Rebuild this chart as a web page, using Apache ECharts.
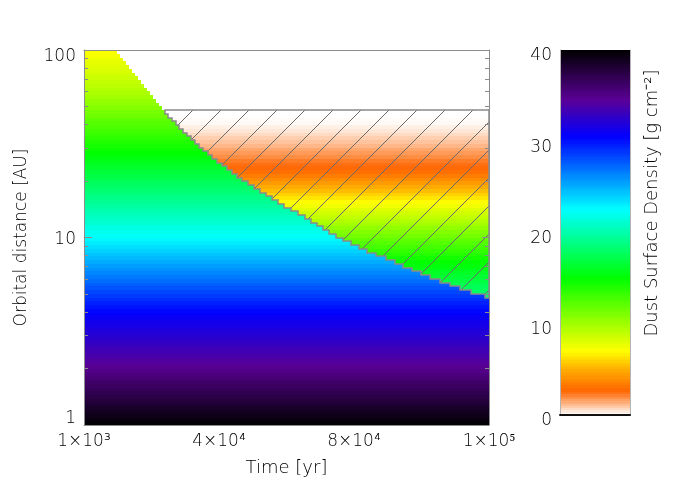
<!DOCTYPE html>
<html>
<head>
<meta charset="utf-8">
<script src="https://cdn.jsdelivr.net/npm/echarts@6/dist/echarts.min.js"></script>
<style>html,body{margin:0;padding:0;background:#fff}#c{width:700px;height:500px}</style>
</head>
<body>
<div id="c"></div>
<script>
// ---------- data (rows are log-spaced bands of 0.02 dex from 1 AU to 100 AU, bottom to top) ----------
const rowLogWidth = 0.02;
const tMin = 1000, tMax = 100000;
const rMin = 1, rMax = 100;
const xTickValues = [1000, 34000, 67000, 100000];
const xTickLabels = ['1×10³', '4×10⁴', '8×10⁴', '1×10⁵'];
const yMajorTicks = [1, 10, 100];
const yMinorTicks = [2, 3, 4, 5, 6, 7, 8, 9, 20, 30, 40, 50, 60, 70, 80, 90];
const cbTicks = [0, 10, 20, 30, 40];
const cbMin = 0, cbMax = 40;

// dust surface density left of / below the front (g cm^-2), per row
const sigmaInner = [
  39.8, 39.5, 39.1, 38.8, 38.5, 38.1, 37.8, 37.4, 37.1, 36.7,
  36.4, 36.1, 35.7, 35.4, 35.0, 34.7, 34.3, 34.0, 33.7, 33.4,
  33.2, 32.9, 32.6, 32.3, 32.0, 31.8, 31.5, 31.2, 30.9, 30.6,
  30.3, 29.9, 29.5, 29.1, 28.7, 28.3, 27.9, 27.5, 27.1, 26.7,
  26.3, 25.9, 25.5, 25.1, 24.7, 24.3, 23.9, 23.5, 23.1, 22.7,
  22.3, 22.0, 21.7, 21.3, 21.0, 20.7, 20.3, 20.0, 19.7, 19.3,
  19.0, 18.7, 18.3, 18.0, 17.7, 17.3, 17.0, 16.7, 16.3, 16.0,
  15.7, 15.3, 15.0, 14.7, 14.3, 14.0, 13.6, 13.3, 13.0, 12.6,
  12.3, 12.0, 11.6, 11.3, 10.9, 10.6, 10.3, 9.9, 9.6, 9.4,
  9.1, 8.9, 8.7, 8.5, 8.2, 8.0, 7.8, 7.6, 7.3, 7.1
];

// dust surface density in the hatched region (right of the front, below ~48 AU), per row
const sigmaOuter = [
  null, null, null, null, null, null, null, null, null, null,
  null, null, null, null, null, null, null, null, null, null,
  null, null, null, null, null, null, null, null, null, null,
  null, null, null, null, 18.2, 17.9, 17.6, 17.3, 16.9, 16.5,
  16.1, 15.7, 15.3, 14.9, 14.4, 13.9, 13.4, 12.9, 12.4, 11.9,
  11.4, 10.9, 10.4, 9.9, 9.4, 8.9, 8.4, 7.9, 7.4, 6.9,
  6.4, 5.9, 5.4, 4.9, 4.4, 3.9, 3.4, 3.0, 2.6, 2.4,
  2.2, 1.9, 1.7, 1.5, 1.2, 1.0, 0.8, 0.6, 0.4, 0.25,
  0.1, 0.05, 0, 0
];

// time (yr) at which the front crosses each row
const boundaryTime = [
  100000, 100000, 100000, 100000, 100000, 100000, 100000, 100000, 100000, 100000,
  100000, 100000, 100000, 100000, 100000, 100000, 100000, 100000, 100000, 100000,
  100000, 100000, 100000, 100000, 100000, 100000, 100000, 100000, 100000, 100000,
  100000, 100000, 100000, 100000, 98900, 95700, 92900, 90400, 88000, 85600,
  83300, 81100, 79000, 76900, 74700, 72400, 70100, 68100, 66200, 64300,
  62600, 61000, 59400, 58000, 56500, 54900, 53200, 51600, 50000, 48500,
  47000, 45500, 44000, 42600, 41100, 39700, 38400, 37100, 35900, 34700,
  33500, 32400, 31300, 30200, 29200, 28200, 27200, 26200, 25300, 24300,
  23400, 22500, 21600, 20800, 20000, 19300, 18600, 17800, 17100, 16400,
  15700, 14900, 14200, 13500, 12800, 12000, 11300, 10600, 9900, 9100
];

// colour table stops (value, colour)
const colorStops = [
  [0, [255, 255, 255]], [2.6, [255, 100, 0]], [5.2, [255, 180, 0]], [7, [255, 255, 0]],
  [15, [0, 255, 0]], [22.5, [0, 255, 255]], [30.5, [0, 0, 255]], [34.5, [90, 0, 150]], [40, [0, 0, 0]]
];

// ---------- build ----------
function colorAt(v) {
  for (let k = 0; k < colorStops.length - 1; k++) {
    const a = colorStops[k], b = colorStops[k + 1];
    if (v <= b[0]) {
      const f = (v - a[0]) / (b[0] - a[0]);
      const c = a[1].map((x, j) => Math.round(x + (b[1][j] - x) * f));
      return 'rgb(' + c.join(',') + ')';
    }
  }
  return 'rgb(0,0,0)';
}
const paletteColors = [];
for (let v = cbMin; v <= cbMax + 1e-9; v += 0.25) paletteColors.push(colorAt(v));

const rowLo = i => Math.pow(10, i * rowLogWidth);
const rowHi = i => Math.pow(10, (i + 1) * rowLogWidth);

const cellData = [];
for (let i = 0; i < sigmaInner.length; i++) {
  const tb = Math.min(boundaryTime[i], tMax);
  cellData.push([tMin, tb, rowLo(i), rowHi(i), sigmaInner[i]]);
  if (i < sigmaOuter.length && sigmaOuter[i] != null && tb < tMax) {
    cellData.push([tb, tMax, rowLo(i), rowHi(i), sigmaOuter[i]]);
  }
}
const outerTopRow = sigmaOuter.length - 1;

const cbData = [];
for (let v = cbMin; v < cbMax; v += 0.25) cbData.push([0, 1, v, v + 0.25, v + 0.125]);

function renderCell(params, api) {
  const p0 = api.coord([api.value(0), api.value(3)]);
  const p1 = api.coord([api.value(1), api.value(2)]);
  const x0 = Math.round(p0[0]), x1 = Math.round(p1[0]);
  const y0 = Math.round(p0[1]), y1 = Math.round(p1[1]);
  return { type: 'rect', shape: { x: x0, y: y0, width: x1 - x0, height: y1 - y0 },
           style: { fill: api.visual('color') } };
}

// hatch tile
const tile = document.createElement('canvas');
tile.width = 28; tile.height = 28;
const g = tile.getContext('2d');
g.strokeStyle = '#6a6a6a'; g.lineWidth = 1;
[-5, 23, 51].forEach(c => { g.beginPath(); g.moveTo(-6, c + 6); g.lineTo(c + 6, -6); g.stroke(); });

function renderHatch(params, api) {
  const top = outerTopRow;
  let low = top;
  while (low - 1 >= 0 && sigmaOuter[low - 1] != null && boundaryTime[low - 1] < tMax) low--;
  const raw = [];
  raw.push([boundaryTime[top], rowHi(top)]);
  raw.push([tMax, rowHi(top)]);
  raw.push([tMax, rowLo(low)]);
  for (let i = low; i <= top; i++) {
    raw.push([boundaryTime[i], rowLo(i)]);
    raw.push([boundaryTime[i], rowHi(i)]);
  }
  const pts = raw.map(p => api.coord(p).map(Math.round));
  return { type: 'polygon', shape: { points: pts },
           style: { fill: { image: tile, repeat: 'repeat' }, stroke: '#8a8a8a', lineWidth: 1.5 } };
}

const FONT = 'DejaVu Sans';
const FW = 200;
const TXT = '#000';
const axisGray = '#8c8c8c';

const chart = echarts.init(document.getElementById('c'), null, { renderer: 'canvas' });
chart.setOption({
  backgroundColor: '#ffffff',
  animation: false,
  grid: [
    { left: 84, top: 50, width: 405, height: 375 },
    { left: 560, top: 50, width: 70, height: 365 }
  ],
  xAxis: [
    { gridIndex: 0, type: 'value', min: tMin, max: tMax, interval: 33000, z: 10,
      axisLine: { show: true, lineStyle: { color: axisGray, width: 1 } },
      axisTick: { show: false }, splitLine: { show: false },
      axisLabel: { show: true, margin: 8, fontSize: 17, fontFamily: FONT, fontWeight: FW, color: TXT,
        formatter: v => { const k = xTickValues.indexOf(Math.round(v)); return k >= 0 ? xTickLabels[k] : ''; } },
      name: 'Time [yr]', nameLocation: 'middle', nameGap: 34,
      nameTextStyle: { fontSize: 18, fontFamily: FONT, fontWeight: FW, color: TXT } },
    { gridIndex: 0, type: 'value', min: tMin, max: tMax, position: 'top', z: 10,
      axisLine: { show: true, lineStyle: { color: axisGray, width: 1 } },
      axisTick: { show: false }, axisLabel: { show: false }, splitLine: { show: false } },
    { gridIndex: 1, type: 'value', min: 0, max: 1, z: 10,
      axisLine: { show: true, lineStyle: { color: '#111', width: 2 } },
      axisTick: { show: false }, axisLabel: { show: false }, splitLine: { show: false } }
  ],
  yAxis: [
    { gridIndex: 0, type: 'log', logBase: 10, min: rMin, max: rMax, position: 'left', z: 10,
      axisLine: { show: true, lineStyle: { color: axisGray, width: 1 } },
      axisTick: { show: true, inside: true, length: 8, customValues: yMajorTicks, lineStyle: { color: axisGray } },
      splitLine: { show: false },
      axisLabel: { show: true, customValues: yMajorTicks, margin: 8, color: TXT,
        fontSize: 17, fontFamily: FONT, fontWeight: FW,
        formatter: v => { const k = Math.round(Math.log10(v)); return ['{c|1}', '{b|10}', '{a|100}'][k]; },
        rich: {
          a: { fontSize: 17, fontFamily: FONT, fontWeight: FW, color: TXT, padding: [13, 0, 0, 0] },
          b: { fontSize: 17, fontFamily: FONT, fontWeight: FW, color: TXT, padding: [5, 0, 0, 0] },
          c: { fontSize: 17, fontFamily: FONT, fontWeight: FW, color: TXT, padding: [0, 0, 13, 0] }
        } },
      name: 'Orbital distance [AU]', nameLocation: 'middle', nameGap: 54, nameRotate: 90,
      nameTextStyle: { fontSize: 17, fontFamily: FONT, fontWeight: FW, color: TXT } },
    { gridIndex: 0, type: 'log', logBase: 10, min: rMin, max: rMax, position: 'left', z: 10,
      axisLine: { show: false },
      axisTick: { show: true, inside: true, length: 4, customValues: yMinorTicks, lineStyle: { color: axisGray } },
      axisLabel: { show: false }, splitLine: { show: false } },
    { gridIndex: 0, type: 'log', logBase: 10, min: rMin, max: rMax, position: 'right', z: 10,
      axisLine: { show: true, lineStyle: { color: axisGray, width: 1 } },
      axisTick: { show: true, inside: true, length: 7, customValues: yMajorTicks, lineStyle: { color: axisGray } },
      axisLabel: { show: false }, splitLine: { show: false } },
    { gridIndex: 0, type: 'log', logBase: 10, min: rMin, max: rMax, position: 'right', z: 10,
      axisLine: { show: false },
      axisTick: { show: true, inside: true, length: 4, customValues: yMinorTicks, lineStyle: { color: axisGray } },
      axisLabel: { show: false }, splitLine: { show: false } },
    { gridIndex: 1, type: 'value', min: cbMin, max: cbMax, interval: 10, position: 'left', z: 10,
      axisLine: { show: true, lineStyle: { color: '#b4b4b4', width: 1 } },
      axisTick: { show: false }, splitLine: { show: false },
      axisLabel: { show: true, margin: 8, color: TXT, fontSize: 17, fontFamily: FONT, fontWeight: FW,
        formatter: v => '{p|' + v + '}',
        rich: { p: { fontSize: 17, fontFamily: FONT, fontWeight: FW, color: TXT, padding: [12, 0, 0, 0] } } } },
    { gridIndex: 1, type: 'value', min: cbMin, max: cbMax, position: 'right', z: 10,
      axisLine: { show: true, lineStyle: { color: '#b4b4b4', width: 1 } },
      axisTick: { show: false }, axisLabel: { show: false }, splitLine: { show: false } }
  ],
  visualMap: {
    type: 'continuous', show: false, min: cbMin, max: cbMax, dimension: 4,
    seriesIndex: [0, 2], inRange: { color: paletteColors }
  },
  series: [
    { type: 'custom', name: 'density', xAxisIndex: 0, yAxisIndex: 0, z: 2,
      renderItem: renderCell, data: cellData, encode: { x: [0, 1], y: [2, 3] }, silent: true },
    { type: 'custom', name: 'hatch', xAxisIndex: 0, yAxisIndex: 0, z: 3,
      renderItem: renderHatch, data: [[tMin, rMin]], silent: true },
    { type: 'custom', name: 'colorbar', xAxisIndex: 2, yAxisIndex: 4, z: 2,
      renderItem: renderCell, data: cbData, encode: { x: [0, 1], y: [2, 3] }, silent: true }
  ],
  graphic: [
    { type: 'text', x: 652, y: 203, rotation: Math.PI / 2,
      style: { text: 'Dust Surface Density [g cm⁻²]', fontSize: 18, fontFamily: FONT, fontWeight: FW, fill: TXT,
               align: 'center', verticalAlign: 'middle' } }
  ]
});
</script>
</body>
</html>
